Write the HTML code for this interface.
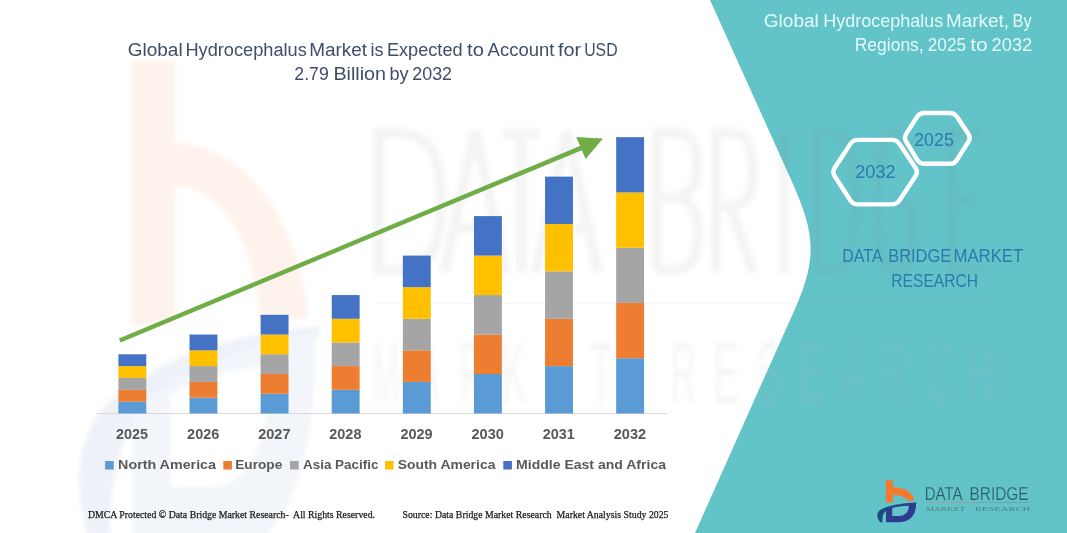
<!DOCTYPE html>
<html><head><meta charset="utf-8">
<style>
html,body{margin:0;padding:0;background:#fff;}
body{width:1067px;height:533px;overflow:hidden;position:relative;}
svg{position:absolute;left:0;top:0;}
text{font-family:"Liberation Sans",sans-serif;}
</style></head><body>
<svg width="1067" height="533" viewBox="0 0 1067 533">
<path d="M710,0 L791.2,180 C814.9,232.5 817.9,257.5 794.5,310 L695,533 L1067,533 L1067,0 Z" fill="#62C3C9"/>
<defs><filter id="bl" x="-5%" y="-5%" width="110%" height="110%"><feGaussianBlur stdDeviation="2"/></filter></defs>
<g filter="url(#bl)"><g transform="matrix(6.1 0 0 11.9 -5272.29 -5653.38)">
<path d="M880.5,522.5 C875.5,517 876,511 884,508 C893,504.5 905,503 917,502.5 L916,503.8 C903,504.5 892,507 887,510 C883,513 882,517 882.5,522.5 Z" fill="#EEF2F8"/>
<path d="M886,509.5 C894,506 905,504 916,503 C916.5,514 911,522.3 898,522.3 H886 Z M892.2,508.2 V516 H899 C905,516 908.8,512 908.8,505.8 C902,506 896,507 892.2,508.2 Z" fill="#F2F5FA" fill-rule="evenodd"/>
</g>
<path d="M131.7,61 H175.2 V142.5 C245,145 300,220 308.5,318 L259.5,318 C255,240 220,186 175.2,186 V325 H131.7 Z" fill="#FEF3EC"/>
</g>
<g fill="none" stroke="#808080" stroke-opacity="0.085" stroke-width="10" filter="url(#bl)">
<path d="M379,133 V270 H398 C433,270 441,240 441,201 C441,162 433,133 398,133 Z"/>
<path d="M444,272 L475,131 L506,272 M453,228 H497"/>
<path d="M503,134 H540 M521.5,134 V272"/>
<path d="M536,272 L567,131 L598,272 M545,228 H589"/>
<path d="M657,270 V133 H676 C693,133 697,148 697,166 C697,186 688,198 672,198 H657 M672,198 C694,198 698,215 698,233 C698,256 692,270 672,270 H657"/>
<path d="M716,272 V133 H732 C749,133 753,150 753,170 C753,192 747,206 730,206 H716 M730,206 L753,272"/>
<path d="M784,131 V272"/>
<path d="M818,133 V270 H830 C852,270 855,240 855,201 C855,162 852,133 830,133 Z"/>
<path d="M911,150 C908,138 903,133 895,133 C882,133 877,160 877,201 C877,245 882,270 895,270 C905,270 911,262 911,240 V205 H896"/>
<path d="M981,133 H951 V270 H983 M951,200 H976"/>
</g>
<rect x="375" y="302" width="625" height="2" fill="#808080" fill-opacity="0.05"/>
<g fill="#B4B4B4" fill-opacity="0.13" filter="url(#bl)">
<text x="372.99" y="403" font-size="87" fill="#B4B4B4" textLength="26.11" lengthAdjust="spacingAndGlyphs">M</text>
<text x="418.50" y="403" font-size="87" fill="#B4B4B4" textLength="21.06" lengthAdjust="spacingAndGlyphs">A</text>
<text x="458.68" y="403" font-size="87" fill="#B4B4B4" textLength="25.49" lengthAdjust="spacingAndGlyphs">R</text>
<text x="501.58" y="403" font-size="87" fill="#B4B4B4" textLength="24.36" lengthAdjust="spacingAndGlyphs">K</text>
<text x="544.42" y="403" font-size="87" fill="#B4B4B4" textLength="25.70" lengthAdjust="spacingAndGlyphs">E</text>
<text x="589.76" y="403" font-size="87" fill="#B4B4B4" textLength="22.51" lengthAdjust="spacingAndGlyphs">T</text>
<text x="670.68" y="403" font-size="87" fill="#B4B4B4" textLength="25.49" lengthAdjust="spacingAndGlyphs">R</text>
<text x="713.02" y="403" font-size="87" fill="#B4B4B4" textLength="25.70" lengthAdjust="spacingAndGlyphs">E</text>
<text x="757.06" y="403" font-size="87" fill="#B4B4B4" textLength="24.36" lengthAdjust="spacingAndGlyphs">S</text>
<text x="798.22" y="403" font-size="87" fill="#B4B4B4" textLength="25.70" lengthAdjust="spacingAndGlyphs">E</text>
<text x="843.90" y="403" font-size="87" fill="#B4B4B4" textLength="21.06" lengthAdjust="spacingAndGlyphs">A</text>
<text x="883.68" y="403" font-size="87" fill="#B4B4B4" textLength="25.49" lengthAdjust="spacingAndGlyphs">R</text>
<text x="927.45" y="403" font-size="87" fill="#B4B4B4" textLength="23.88" lengthAdjust="spacingAndGlyphs">C</text>
<text x="968.70" y="403" font-size="87" fill="#B4B4B4" textLength="27.08" lengthAdjust="spacingAndGlyphs">H</text>
</g>
<text x="127.75" y="55.7" font-size="18.8" fill="#3E4E69" textLength="54.90" lengthAdjust="spacingAndGlyphs">Global</text>
<text x="185.44" y="55.7" font-size="18.8" fill="#3E4E69" textLength="121.40" lengthAdjust="spacingAndGlyphs">Hydrocephalus</text>
<text x="309.19" y="55.7" font-size="18.8" fill="#3E4E69" textLength="57.83" lengthAdjust="spacingAndGlyphs">Market</text>
<text x="370.53" y="55.7" font-size="18.8" fill="#3E4E69" textLength="13.05" lengthAdjust="spacingAndGlyphs">is</text>
<text x="386.95" y="55.7" font-size="18.8" fill="#3E4E69" textLength="75.62" lengthAdjust="spacingAndGlyphs">Expected</text>
<text x="467.10" y="55.7" font-size="18.8" fill="#3E4E69" textLength="16.79" lengthAdjust="spacingAndGlyphs">to</text>
<text x="487.60" y="55.7" font-size="18.8" fill="#3E4E69" textLength="66.75" lengthAdjust="spacingAndGlyphs">Account</text>
<text x="558.10" y="55.7" font-size="18.8" fill="#3E4E69" textLength="23.13" lengthAdjust="spacingAndGlyphs">for</text>
<text x="584.22" y="55.7" font-size="18.8" fill="#3E4E69" textLength="33.32" lengthAdjust="spacingAndGlyphs">USD</text>
<text x="294.32" y="79.7" font-size="18.8" fill="#3E4E69" textLength="34.40" lengthAdjust="spacingAndGlyphs">2.79</text>
<text x="333.42" y="79.7" font-size="18.8" fill="#3E4E69" textLength="52.62" lengthAdjust="spacingAndGlyphs">Billion</text>
<text x="389.52" y="79.7" font-size="18.8" fill="#3E4E69" textLength="19.20" lengthAdjust="spacingAndGlyphs">by</text>
<text x="412.31" y="79.7" font-size="18.8" fill="#3E4E69" textLength="39.68" lengthAdjust="spacingAndGlyphs">2032</text>
<rect x="96" y="413" width="571" height="1" fill="#D9D9D9"/>
<rect x="118.40" y="401.66" width="27.9" height="11.84" fill="#5B9BD5"/>
<rect x="118.40" y="389.81" width="27.9" height="11.84" fill="#ED7D31"/>
<rect x="118.40" y="377.97" width="27.9" height="11.84" fill="#A5A5A5"/>
<rect x="118.40" y="366.12" width="27.9" height="11.84" fill="#FFC000"/>
<rect x="118.40" y="354.28" width="27.9" height="11.84" fill="#4472C4"/>
<rect x="189.51" y="397.71" width="27.9" height="15.79" fill="#5B9BD5"/>
<rect x="189.51" y="381.92" width="27.9" height="15.79" fill="#ED7D31"/>
<rect x="189.51" y="366.12" width="27.9" height="15.79" fill="#A5A5A5"/>
<rect x="189.51" y="350.33" width="27.9" height="15.79" fill="#FFC000"/>
<rect x="189.51" y="334.54" width="27.9" height="15.79" fill="#4472C4"/>
<rect x="260.62" y="393.76" width="27.9" height="19.74" fill="#5B9BD5"/>
<rect x="260.62" y="374.02" width="27.9" height="19.74" fill="#ED7D31"/>
<rect x="260.62" y="354.28" width="27.9" height="19.74" fill="#A5A5A5"/>
<rect x="260.62" y="334.54" width="27.9" height="19.74" fill="#FFC000"/>
<rect x="260.62" y="314.80" width="27.9" height="19.74" fill="#4472C4"/>
<rect x="331.73" y="389.81" width="27.9" height="23.69" fill="#5B9BD5"/>
<rect x="331.73" y="366.12" width="27.9" height="23.69" fill="#ED7D31"/>
<rect x="331.73" y="342.44" width="27.9" height="23.69" fill="#A5A5A5"/>
<rect x="331.73" y="318.75" width="27.9" height="23.69" fill="#FFC000"/>
<rect x="331.73" y="295.06" width="27.9" height="23.69" fill="#4472C4"/>
<rect x="402.84" y="381.92" width="27.9" height="31.58" fill="#5B9BD5"/>
<rect x="402.84" y="350.33" width="27.9" height="31.58" fill="#ED7D31"/>
<rect x="402.84" y="318.75" width="27.9" height="31.58" fill="#A5A5A5"/>
<rect x="402.84" y="287.16" width="27.9" height="31.58" fill="#FFC000"/>
<rect x="402.84" y="255.58" width="27.9" height="31.58" fill="#4472C4"/>
<rect x="473.95" y="374.02" width="27.9" height="39.48" fill="#5B9BD5"/>
<rect x="473.95" y="334.54" width="27.9" height="39.48" fill="#ED7D31"/>
<rect x="473.95" y="295.06" width="27.9" height="39.48" fill="#A5A5A5"/>
<rect x="473.95" y="255.58" width="27.9" height="39.48" fill="#FFC000"/>
<rect x="473.95" y="216.10" width="27.9" height="39.48" fill="#4472C4"/>
<rect x="545.06" y="366.12" width="27.9" height="47.38" fill="#5B9BD5"/>
<rect x="545.06" y="318.75" width="27.9" height="47.38" fill="#ED7D31"/>
<rect x="545.06" y="271.37" width="27.9" height="47.38" fill="#A5A5A5"/>
<rect x="545.06" y="224.00" width="27.9" height="47.38" fill="#FFC000"/>
<rect x="545.06" y="176.62" width="27.9" height="47.38" fill="#4472C4"/>
<rect x="616.17" y="358.23" width="27.9" height="55.27" fill="#5B9BD5"/>
<rect x="616.17" y="302.96" width="27.9" height="55.27" fill="#ED7D31"/>
<rect x="616.17" y="247.68" width="27.9" height="55.27" fill="#A5A5A5"/>
<rect x="616.17" y="192.41" width="27.9" height="55.27" fill="#FFC000"/>
<rect x="616.17" y="137.14" width="27.9" height="55.27" fill="#4472C4"/>
<line x1="119.8" y1="340.5" x2="582" y2="147.6" stroke="#70AD47" stroke-width="4.5"/>
<polygon points="603,138.6 576.2,136.9 585.6,159.1" fill="#70AD47"/>
<text x="116.00" y="438.7" font-size="13.8" fill="#595959" font-weight="bold" textLength="32.06" lengthAdjust="spacingAndGlyphs">2025</text>
<text x="187.10" y="438.7" font-size="13.8" fill="#595959" font-weight="bold" textLength="32.21" lengthAdjust="spacingAndGlyphs">2026</text>
<text x="258.21" y="438.7" font-size="13.8" fill="#595959" font-weight="bold" textLength="32.28" lengthAdjust="spacingAndGlyphs">2027</text>
<text x="329.32" y="438.7" font-size="13.8" fill="#595959" font-weight="bold" textLength="32.13" lengthAdjust="spacingAndGlyphs">2028</text>
<text x="400.43" y="438.7" font-size="13.8" fill="#595959" font-weight="bold" textLength="32.21" lengthAdjust="spacingAndGlyphs">2029</text>
<text x="471.54" y="438.7" font-size="13.8" fill="#595959" font-weight="bold" textLength="32.28" lengthAdjust="spacingAndGlyphs">2030</text>
<text x="542.66" y="438.7" font-size="13.8" fill="#595959" font-weight="bold" textLength="32.06" lengthAdjust="spacingAndGlyphs">2031</text>
<text x="613.76" y="438.7" font-size="13.8" fill="#595959" font-weight="bold" textLength="32.28" lengthAdjust="spacingAndGlyphs">2032</text>
<rect x="105.1" y="461" width="8.6" height="8.5" fill="#5B9BD5"/>
<text x="118.10000000000001" y="468.7" font-size="13.6" fill="#595959" font-weight="bold" textLength="97.9" lengthAdjust="spacingAndGlyphs">North America</text>
<rect x="223.3" y="461" width="8.6" height="8.5" fill="#ED7D31"/>
<text x="235.2" y="468.7" font-size="13.6" fill="#595959" font-weight="bold" textLength="47.1" lengthAdjust="spacingAndGlyphs">Europe</text>
<rect x="290" y="461" width="8.6" height="8.5" fill="#A5A5A5"/>
<text x="303.0" y="468.7" font-size="13.6" fill="#595959" font-weight="bold" textLength="75.4" lengthAdjust="spacingAndGlyphs">Asia Pacific</text>
<rect x="385" y="461" width="8.6" height="8.5" fill="#FFC000"/>
<text x="397.7" y="468.7" font-size="13.6" fill="#595959" font-weight="bold" textLength="97.7" lengthAdjust="spacingAndGlyphs">South America</text>
<rect x="503.3" y="461" width="8.6" height="8.5" fill="#4472C4"/>
<text x="516.1" y="468.7" font-size="13.6" fill="#595959" font-weight="bold" textLength="149.9" lengthAdjust="spacingAndGlyphs">Middle East and Africa</text>
<text x="88" y="518" font-size="10.2" fill="#1A1A1A" style="font-family:'Liberation Serif',serif" textLength="287" lengthAdjust="spacingAndGlyphs" stroke="#1A1A1A" stroke-width="0.25">DMCA Protected © Data Bridge Market Research-&#160; All Rights Reserved.</text>
<text x="402.5" y="518.3" font-size="10.2" fill="#1A1A1A" style="font-family:'Liberation Serif',serif" textLength="266" lengthAdjust="spacingAndGlyphs" stroke="#1A1A1A" stroke-width="0.25">Source: Data Bridge Market Research&#160; Market Analysis Study 2025</text>
<text x="763.75" y="27.4" font-size="18.6" fill="#E4FAFA" textLength="55.11" lengthAdjust="spacingAndGlyphs">Global</text>
<text x="823.26" y="27.4" font-size="18.6" fill="#E4FAFA" textLength="119.98" lengthAdjust="spacingAndGlyphs">Hydrocephalus</text>
<text x="945.99" y="27.4" font-size="18.6" fill="#E4FAFA" textLength="62.99" lengthAdjust="spacingAndGlyphs">Market,</text>
<text x="1012.59" y="27.4" font-size="18.6" fill="#E4FAFA" textLength="19.15" lengthAdjust="spacingAndGlyphs">By</text>
<text x="854.70" y="51.3" font-size="18.6" fill="#E4FAFA" textLength="69.02" lengthAdjust="spacingAndGlyphs">Regions,</text>
<text x="927.84" y="51.3" font-size="18.6" fill="#E4FAFA" textLength="38.14" lengthAdjust="spacingAndGlyphs">2025</text>
<text x="970.18" y="51.3" font-size="18.6" fill="#E4FAFA" textLength="17.54" lengthAdjust="spacingAndGlyphs">to</text>
<text x="991.58" y="51.3" font-size="18.6" fill="#E4FAFA" textLength="40.72" lengthAdjust="spacingAndGlyphs">2032</text>
<path d="M834.72,176.20 Q832.00,172.00 834.74,167.82 L850.26,144.08 Q853.00,139.90 858.00,139.90 L891.80,139.90 Q896.80,139.90 899.57,144.06 L915.43,167.84 Q918.20,172.00 915.44,176.17 L899.56,200.23 Q896.80,204.40 891.80,204.40 L858.00,204.40 Q853.00,204.40 850.28,200.20 Z" fill="none" stroke="#fff" stroke-width="4.4"/>
<path d="M906.12,141.56 Q903.80,137.70 906.21,133.90 L917.09,116.80 Q919.50,113.00 924.00,113.00 L950.00,113.00 Q954.50,113.00 956.99,116.75 L968.41,133.95 Q970.90,137.70 968.51,141.51 L956.89,159.99 Q954.50,163.80 950.00,163.80 L924.00,163.80 Q919.50,163.80 917.18,159.94 Z" fill="none" stroke="#fff" stroke-width="4.4"/>
<text x="855.19" y="177.8" font-size="18.6" fill="#2C7AAC" textLength="40.41" lengthAdjust="spacingAndGlyphs">2032</text>
<text x="914.21" y="145.9" font-size="18.6" fill="#2C7AAC" textLength="39.60" lengthAdjust="spacingAndGlyphs">2025</text>
<text x="842.32" y="262.4" font-size="18.6" fill="#2C7AAC" textLength="40.24" lengthAdjust="spacingAndGlyphs">DATA</text>
<text x="888.18" y="262.4" font-size="18.6" fill="#2C7AAC" textLength="63.14" lengthAdjust="spacingAndGlyphs">BRIDGE</text>
<text x="953.46" y="262.4" font-size="18.6" fill="#2C7AAC" textLength="69.71" lengthAdjust="spacingAndGlyphs">MARKET</text>
<text x="891.35" y="286.6" font-size="18.6" fill="#2C7AAC" textLength="86.62" lengthAdjust="spacingAndGlyphs">RESEARCH</text>
<path d="M885.9,480.2 H892.9 V487.3 C903,487.3 912,490.5 914.6,500.5 L908,501 C906,497 900,495 892.9,495 V502.4 H885.9 Z" fill="#F47A2E"/>
<path d="M880.5,522.5 C875.5,517 876,511 884,508 C893,504.5 905,503 917,502.5 L916,503.8 C903,504.5 892,507 887,510 C883,513 882,517 882.5,522.5 Z" fill="#1F4A7E"/>
<path d="M886,509.5 C894,506 905,504 916,503 C916.5,514 911,522.3 898,522.3 H886 Z M892.2,508.2 V516 H899 C905,516 908.8,512 908.8,505.8 C902,506 896,507 892.2,508.2 Z" fill="#2D3C8E" fill-rule="evenodd"/>
<text x="924.70" y="499.6" font-size="18.8" fill="#2C5A68" textLength="37.86" lengthAdjust="spacingAndGlyphs" stroke="#62C3C9" stroke-width="0.25">DATA</text>
<text x="969.57" y="499.6" font-size="18.8" fill="#2C5A68" textLength="58.91" lengthAdjust="spacingAndGlyphs" stroke="#62C3C9" stroke-width="0.25">BRIDGE</text>
<rect x="927" y="502.1" width="50" height="0.9" fill="#A89E8E"/>
<rect x="977" y="502.1" width="53" height="0.9" fill="#7F9CA2"/>
<g fill-opacity="0.75">
<text x="925.72" y="511.4" font-size="6.5" fill="#3F6E78" style="font-family:'Liberation Serif',serif" textLength="39.44" lengthAdjust="spacingAndGlyphs">MARKET</text>
<text x="974.68" y="511.4" font-size="6.5" fill="#3F6E78" style="font-family:'Liberation Serif',serif" textLength="55.62" lengthAdjust="spacingAndGlyphs">RESEARCH</text>
</g>
</svg>
</body></html>
